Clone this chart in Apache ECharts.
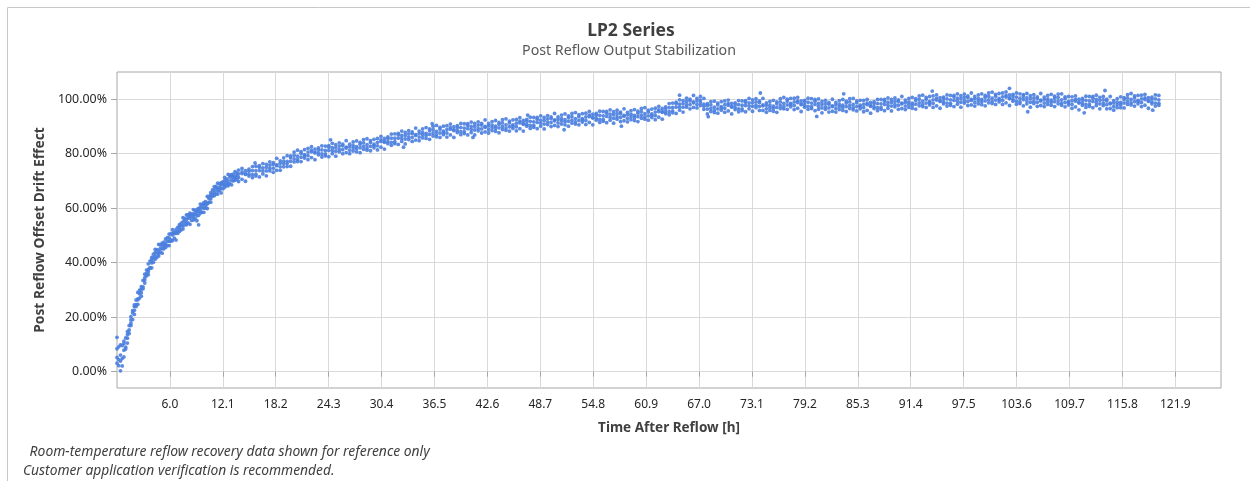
<!DOCTYPE html>
<html>
<head>
<meta charset="utf-8">
<script src="https://cdn.jsdelivr.net/npm/echarts@6/dist/echarts.min.js"></script>
<style>
html,body{margin:0;padding:0;background:#fff;}
#chart{width:1250px;height:481px;}
</style>
</head>
<body>
<div id="chart"></div>
<script>
// Time after reflow [h]
const hours = [
0,0.4,0.8,1.2,1.6,2,2.4,2.8,3.2,3.6,
4,4.4,4.8,5.2,5.6,6,6.4,6.8,7.2,7.6,
8,8.4,8.8,9.2,9.6,10,10.4,10.8,11.2,11.6,
12,12.4,12.8,13.2,13.6,14,14.4,14.8,15.2,15.6,
16,16.4,16.8,17.2,17.6,18,18.4,18.8,19.2,19.6,
20,20.4,20.8,21.2,21.6,22,22.4,22.8,23.2,23.6,
24,24.4,24.8,25.2,25.6,26,26.4,26.8,27.2,27.6,
28,28.4,28.8,29.2,29.6,30,30.4,30.8,31.2,31.6,
32,32.4,32.8,33.2,33.6,34,34.4,34.8,35.2,35.6,
36,36.4,36.8,37.2,37.6,38,38.4,38.8,39.2,39.6,
40,40.4,40.8,41.2,41.6,42,42.4,42.8,43.2,43.6,
44,44.4,44.8,45.2,45.6,46,46.4,46.8,47.2,47.6,
48,48.4,48.8,49.2,49.6,50,50.4,50.8,51.2,51.6,
52,52.4,52.8,53.2,53.6,54,54.4,54.8,55.2,55.6,
56,56.4,56.8,57.2,57.6,58,58.4,58.8,59.2,59.6,
60,60.4,60.8,61.2,61.6,62,62.4,62.8,63.2,63.6,
64,64.4,64.8,65.2,65.6,66,66.4,66.8,67.2,67.6,
68,68.4,68.8,69.2,69.6,70,70.4,70.8,71.2,71.6,
72,72.4,72.8,73.2,73.6,74,74.4,74.8,75.2,75.6,
76,76.4,76.8,77.2,77.6,78,78.4,78.8,79.2,79.6,
80,80.4,80.8,81.2,81.6,82,82.4,82.8,83.2,83.6,
84,84.4,84.8,85.2,85.6,86,86.4,86.8,87.2,87.6,
88,88.4,88.8,89.2,89.6,90,90.4,90.8,91.2,91.6,
92,92.4,92.8,93.2,93.6,94,94.4,94.8,95.2,95.6,
96,96.4,96.8,97.2,97.6,98,98.4,98.8,99.2,99.6,
100,100.4,100.8,101.2,101.6,102,102.4,102.8,103.2,103.6,
104,104.4,104.8,105.2,105.6,106,106.4,106.8,107.2,107.6,
108,108.4,108.8,109.2,109.6,110,110.4,110.8,111.2,111.6,
112,112.4,112.8,113.2,113.6,114,114.4,114.8,115.2,115.6,
116,116.4,116.8,117.2,117.6,118,118.4,118.8,119.2,119.6,
120
];
// Drift effect readings [%], four readings per time stamp
const readA = [
3.1,0.3,5.4,13.6,20.2,21.0,26.7,29.0,35.8,36.7,
41.2,41.3,46.7,45.1,46.9,46.3,50.8,50.8,54.0,52.4,
53.9,57.6,56.8,58.5,61.5,58.5,61.9,63.5,67.9,66.3,
68.7,67.7,72.4,70.2,71.6,69.8,73.3,72.4,74.3,71.2,
71.8,75.0,73.7,75.0,77.0,73.2,75.9,75.2,78.5,76.4,
78.5,77.0,81.3,78.7,79.7,77.8,81.3,80.3,82.1,78.8,
79.2,82.4,81.1,82.2,84.0,80.0,82.4,81.3,84.3,81.8,
83.5,81.6,85.5,82.7,83.5,81.4,85.1,84.2,86.2,83.1,
83.7,86.9,85.6,86.7,88.5,84.5,87.0,86.1,89.1,86.7,
88.4,86.5,90.4,87.6,88.3,86.1,89.6,88.5,90.3,87.0,
87.4,90.4,88.9,90.0,91.7,87.6,90.0,88.9,91.8,89.3,
90.8,88.9,92.8,89.9,90.6,88.4,91.9,90.8,92.6,89.3,
89.7,92.7,91.2,92.2,94.0,90.0,92.4,91.3,94.2,91.7,
93.2,91.2,95.1,92.2,92.9,90.7,94.2,93.1,94.8,91.5,
91.9,94.9,93.4,94.3,96.0,91.8,94.1,93.0,95.8,93.3,
94.9,93.0,96.9,93.9,94.6,92.5,96.1,95.2,97.2,94.3,
95.0,98.3,97.1,98.4,100.4,96.5,99.0,98.1,101.0,97.4,
97.7,95.5,99.3,96.5,97.3,95.2,98.4,97.1,98.7,95.4,
95.8,98.9,97.6,98.7,100.2,95.9,97.9,96.5,99.2,96.7,
98.3,96.6,100.7,97.9,98.5,96.2,99.4,98.0,99.6,96.3,
96.6,99.3,97.4,98.1,99.6,95.3,97.6,96.6,99.5,97.0,
98.6,96.6,100.3,97.3,97.8,95.4,98.6,97.4,99.1,95.8,
96.3,99.3,97.8,98.8,100.5,96.3,98.6,97.5,100.3,97.8,
99.5,97.6,101.5,98.6,99.2,97.0,100.3,99.2,100.8,97.5,
97.8,100.8,99.3,100.2,101.9,97.7,99.9,98.8,101.6,99.1,
100.7,98.7,102.6,99.7,100.3,98.1,101.4,100.2,101.8,98.2,
98.4,101.1,99.4,100.2,101.7,97.4,99.7,98.6,101.4,98.9,
100.4,98.3,102.0,98.8,99.2,96.7,99.9,98.6,100.3,97.0,
97.4,100.4,98.8,99.6,101.0,96.5,98.6,97.3,100.2,98.0,
99.9,98.1,102.1,99.1,99.6,97.3,100.5,99.2,100.8,97.5,
97.8
];
const readB = [
8.4,6.1,11.2,12.3,16.9,23.9,24.7,30.3,33.6,39.6,
38.1,43.7,43.3,47.2,45.6,49.1,48.1,52.2,52.2,56.5,
57.5,54.1,59.5,57.2,58.2,61.4,59.9,64.8,65.7,69.2,
65.6,70.1,69.0,72.3,70.3,72.6,70.6,73.8,72.5,75.3,
75.4,71.5,76.4,73.7,73.7,76.1,73.9,76.5,76.3,79.3,
75.4,79.4,77.9,80.8,78.4,80.6,78.6,81.7,80.3,82.9,
82.8,78.9,83.8,80.9,80.7,82.9,80.4,82.6,82.1,84.7,
80.4,84.0,82.1,84.8,82.2,84.2,82.4,85.6,84.4,87.2,
87.3,83.4,88.3,85.4,85.2,87.4,85.0,87.4,86.9,89.6,
85.3,88.9,87.0,89.7,87.0,88.9,86.9,89.9,88.5,91.1,
91.0,86.9,91.6,88.7,88.4,90.5,88.0,90.2,89.6,92.2,
87.7,91.3,89.4,92.0,89.3,91.2,89.2,92.2,90.8,93.4,
93.3,89.2,93.9,90.9,90.7,92.9,90.4,92.6,92.0,94.6,
90.1,93.6,91.7,94.3,91.6,93.5,91.5,94.5,93.0,95.6,
95.5,91.4,96.1,93.0,92.7,94.7,92.1,94.3,93.6,96.2,
91.8,95.4,93.5,96.0,93.3,95.3,93.4,96.6,95.4,98.4,
98.6,94.8,99.8,97.1,97.1,99.4,97.0,99.4,98.8,100.3,
94.6,97.9,95.9,98.6,96.0,98.0,95.7,98.5,96.9,99.5,
99.4,95.4,100.3,97.4,96.9,98.8,95.9,97.8,97.0,99.6,
95.2,99.0,97.3,100.0,97.2,99.0,96.7,99.4,97.8,100.4,
100.2,95.8,100.1,96.8,96.3,98.2,95.6,97.9,97.3,99.9,
95.5,99.0,96.9,99.4,96.5,98.2,95.9,98.8,97.3,99.9,
99.9,95.8,100.5,97.5,97.2,99.2,96.6,98.8,98.1,100.7,
96.4,100.0,98.1,100.7,97.9,99.8,97.6,100.6,99.0,101.6,
101.4,97.3,102.0,98.9,98.6,100.6,97.9,100.1,99.4,102.0,
97.6,101.1,99.2,101.8,99.0,100.9,98.7,101.6,100.0,102.3,
102.0,97.6,102.1,98.9,98.4,100.3,97.7,99.9,99.2,101.8,
97.3,100.7,98.6,100.9,97.9,99.5,97.2,100.0,98.5,101.1,
101.0,96.9,101.5,98.3,97.7,99.4,96.6,98.6,98.0,100.9,
96.8,100.5,98.7,101.2,98.3,100.1,97.8,100.6,99.0,101.6,
101.4
];
const readC = [
12.6,9.8,7.9,14.7,17.8,24.5,29.1,31.2,32.5,37.5,
41.9,44.9,44.5,43.5,48.7,47.8,50.2,48.3,51.5,55.0,
55.9,56.4,55.7,59.6,59.1,62.0,64.3,65.7,64.6,67.1,
69.4,71.3,70.2,68.6,73.4,71.3,72.7,69.9,71.8,73.8,
73.8,73.8,72.6,76.1,74.6,76.7,78.3,77.4,75.2,77.2,
79.2,80.6,79.1,77.1,81.5,79.3,80.7,77.8,79.6,81.4,
81.2,81.2,80.0,83.3,81.6,83.5,84.8,83.5,81.0,82.6,
84.2,85.2,83.3,81.1,85.3,82.9,84.5,81.7,83.7,85.7,
85.7,85.7,84.5,87.8,86.1,88.0,89.4,88.3,85.8,87.5,
89.1,90.1,88.2,86.0,90.1,87.6,89.0,86.0,87.8,89.6,
89.4,89.2,87.8,91.1,89.3,91.1,92.4,91.1,88.5,90.1,
91.5,92.5,90.6,88.3,92.4,89.9,91.3,88.3,90.1,91.9,
91.7,91.5,90.1,93.3,91.6,93.5,94.8,93.5,90.9,92.5,
93.9,94.8,92.9,90.6,94.7,92.2,93.6,90.6,92.3,94.1,
93.9,93.7,92.3,95.4,93.6,95.3,96.5,95.2,92.5,94.1,
95.6,96.6,94.7,92.3,96.4,94.0,95.5,92.7,94.7,96.9,
97.0,97.1,96.0,99.5,98.0,100.0,101.4,100.3,97.7,98.2,
98.4,99.1,97.1,94.9,99.1,96.7,97.8,94.6,96.2,98.0,
97.8,97.7,96.5,99.8,97.8,99.4,100.3,98.7,95.9,97.5,
99.0,100.2,98.5,96.3,100.3,97.7,98.8,95.5,97.1,98.9,
98.6,98.1,96.3,99.2,97.2,98.8,100.0,98.8,96.2,97.8,
99.3,100.2,98.1,95.7,99.6,96.9,98.0,94.9,96.6,98.4,
98.3,98.1,96.7,99.9,98.1,99.8,101.0,99.7,97.0,98.6,
100.2,101.2,99.3,97.0,101.0,98.5,99.7,96.7,98.3,100.1,
99.8,99.6,98.2,101.3,99.5,101.2,102.3,101.0,98.3,99.9,
101.4,102.3,100.4,98.1,102.1,99.6,100.8,97.7,99.3,100.8,
100.4,99.9,98.3,101.3,99.3,100.9,102.1,100.8,98.1,99.7,
101.1,101.9,99.8,97.2,101.0,98.2,99.3,96.1,97.8,99.6,
99.4,99.2,97.7,100.7,98.6,100.0,101.0,99.5,96.9,98.8,
100.6,101.7,99.9,97.5,101.4,98.8,99.9,96.7,98.3,100.1,
99.8
];
const readD = [
5.2,3.9,10.3,10.5,19.0,22.5,26.4,27.7,34.5,35.6,
39.9,42.4,42.5,46.5,46.4,50.5,52.1,51.1,53.3,53.5,
54.6,58.2,57.9,55.4,60.3,60.0,61.6,62.2,66.6,65.2,
67.4,68.8,68.2,71.6,71.1,74.0,74.6,72.7,73.6,72.3,
72.5,75.6,74.8,71.9,75.8,74.7,75.6,73.9,77.2,75.3,
77.2,78.1,77.1,80.1,79.2,82.0,82.6,80.6,81.4,79.9,
79.9,83.0,82.2,79.1,82.8,81.5,82.1,80.0,83.0,80.7,
82.2,82.7,81.3,84.1,83.0,85.6,86.4,84.5,85.5,84.2,
84.4,87.5,86.7,83.6,87.3,86.0,86.7,84.8,87.8,85.6,
87.1,87.6,86.2,89.0,87.8,90.3,90.9,88.8,89.6,88.1,
88.1,91.0,90.0,86.9,90.5,89.1,89.7,87.6,90.5,88.2,
89.5,90.0,88.6,91.3,90.1,92.6,93.2,91.1,91.9,90.4,
90.4,93.3,92.3,89.1,92.8,91.5,92.1,90.0,92.9,90.6,
91.9,92.3,90.9,93.6,92.4,94.9,95.5,93.4,94.1,92.6,
92.6,95.5,94.5,91.2,94.8,93.3,93.8,91.7,94.5,92.2,
93.6,94.1,92.7,95.3,94.1,96.7,97.4,95.5,96.5,95.4,
95.7,98.9,98.2,95.3,99.2,98.0,98.7,96.8,99.7,96.3,
96.4,96.6,95.1,97.9,96.8,99.4,99.7,97.4,98.0,96.5,
96.5,99.5,98.7,95.6,99.0,97.4,97.6,95.2,97.9,95.6,
97.0,97.7,96.5,99.3,98.0,100.4,100.7,98.3,98.9,97.4,
97.3,99.9,98.5,95.0,98.4,96.8,97.3,95.3,98.2,95.9,
97.3,97.7,96.1,98.7,97.3,99.6,99.9,97.7,98.4,96.9,
97.0,99.9,98.9,95.7,99.3,97.8,98.3,96.2,99.0,96.7,
98.2,98.7,97.3,100.0,98.7,101.2,101.6,99.5,100.1,98.6,
98.5,101.4,100.4,97.1,100.7,99.2,99.6,97.5,100.3,98.0,
99.4,99.8,98.4,101.1,99.8,102.3,102.7,100.5,101.1,99.3,
99.1,101.7,100.5,97.1,100.5,98.9,99.4,97.3,100.1,97.8,
99.1,99.4,97.8,100.2,98.7,100.9,101.2,98.9,99.6,98.1,
98.1,101.0,99.9,96.5,99.8,98.0,98.3,96.0,98.9,96.9,
98.6,99.2,97.9,100.5,99.1,101.5,101.8,99.5,100.1,98.6,
98.5
];
// extra readings in the steep early part [h] and [%]
const hoursEarly = [
0.2,0.6,1.0,1.4,1.8,2.2,2.6,3.0,3.4,3.8,
4.2,4.6,5.0,5.4,5.8,6.2,6.6,7.0,7.4,7.8,
8.2,8.6,9.0,9.4,9.8,10.2,10.6,11.0,11.4,11.8,
12.2,12.6,13.0,13.4,13.8
];
const earlyA = [
2.2,4.8,9.0,16.9,19.1,26.3,27.0,33.5,35.2,40.6,
40.2,44.8,43.9,47.5,46.3,50.6,49.0,53.0,52.1,56.2,
54.6,57.8,56.1,59.9,58.5,62.4,62.1,66.7,65.2,68.9,
67.1,70.8,69.0,72.5,70.6
];
const earlyB = [
9.1,9.6,12.4,14.0,21.6,23.9,29.9,31.1,37.3,38.2,
41.7,42.0,46.6,45.1,47.9,48.4,51.2,50.8,54.5,54.0,
56.4,55.5,59.0,57.4,60.2,60.0,64.3,64.4,67.5,66.5,
69.7,68.3,71.4,70.0,72.9
];
const earlyC = [
4.4,2.1,8.3,15.3,22.4,24.6,28.6,30.4,36.0,37.9,
43.1,43.6,45.3,46.0,49.2,47.9,50.7,51.5,53.6,55.3,
57.5,56.9,57.7,58.8,61.3,61.0,63.5,65.2,68.0,67.6,
68.6,69.5,72.1,71.2,71.9
];
// isolated stray readings [h, %]
const strayPoints = [
[9.4,53.9],[15.9,76.6],[24.6,85.1],[33.0,82.4],[36.3,91.0],[41.0,86.0],
[47.3,94.2],[51.5,88.8],[58.1,90.1],[64.8,101.5],[68.1,93.6],[74.1,102.3],
[80.6,93.7],[83.7,102.0],[93.9,103.0],[102.8,104.0],[104.9,95.4],[111.4,95.0],
[113.8,103.2],[119.3,96.0]
];

const xTickValues = [6.095,12.19,18.285,24.38,30.475,36.57,42.665,48.76,54.855,60.95,67.045,73.14,79.235,85.33,91.425,97.52,103.615,109.71,115.805,121.9];
const xTickLabels = ['6.0','12.1','18.2','24.3','30.4','36.5','42.6','48.7','54.8','60.9','67.0','73.1','79.2','85.3','91.4','97.5','103.6','109.7','115.8','121.9'];
const yTickValues = [0,20,40,60,80,100];
const yTickLabels = ['0.00%','20.00%','40.00%','60.00%','80.00%','100.00%'];

const points = [];
hours.forEach(function (h, i) {
  [readA, readB, readC, readD].forEach(function (arr) { points.push([h, arr[i]]); });
});
hoursEarly.forEach(function (h, i) {
  [earlyA, earlyB, earlyC].forEach(function (arr) { points.push([h, arr[i]]); });
});
strayPoints.forEach(function (p) { points.push(p); });

function labelFor(values, labels, v) {
  for (let i = 0; i < values.length; i++) {
    if (Math.abs(values[i] - v) < 1e-6) return labels[i];
  }
  return '';
}

const FONT = '"Noto Sans", "Open Sans", sans-serif';
const chart = echarts.init(document.getElementById('chart'), null, { renderer: 'canvas' });
chart.setOption({
  animation: false,
  backgroundColor: '#ffffff',
  textStyle: { fontFamily: FONT },
  grid: {
    left: 117, right: 29, top: 72, bottom: 93,
    show: true, borderColor: '#a6a6a6', borderWidth: 1,
    outerBoundsMode: 'none', containLabel: false
  },
  graphic: [
    { type: 'rect', silent: true, z: -10, shape: { x: 7.5, y: 7.5, width: 1400, height: 700 },
      style: { fill: 'none', stroke: '#c8c8c8', lineWidth: 1 } },
    { type: 'text', x: 631, y: 31, silent: true,
      style: { text: 'LP2 Series', font: 'bold 17.5px ' + FONT, fill: '#404040', textAlign: 'center', textVerticalAlign: 'middle' } },
    { type: 'text', x: 629, y: 51, silent: true,
      style: { text: 'Post Reflow Output Stabilization', font: '14.2px ' + FONT, fill: '#595959', textAlign: 'center', textVerticalAlign: 'middle' } },
    { type: 'text', x: 26, y: 452, silent: true,
      style: { text: ' Room-temperature reflow recovery data shown for reference only', font: 'italic 13.9px ' + FONT, fill: '#404040', textAlign: 'left', textVerticalAlign: 'middle' } },
    { type: 'text', x: 23, y: 471, silent: true,
      style: { text: 'Customer application verification is recommended.', font: 'italic 13.8px ' + FONT, fill: '#404040', textAlign: 'left', textVerticalAlign: 'middle' } }
  ],
  xAxis: {
    type: 'value', min: 0, max: 127.16,
    name: 'Time After Reflow [h]', nameLocation: 'middle', nameGap: 33,
    nameTextStyle: { fontSize: 13.5, fontWeight: 'bold', color: '#404040', fontFamily: FONT },
    axisLine: { show: false },
    axisTick: { show: true, customValues: xTickValues, length: 5, lineStyle: { color: '#a6a6a6' } },
    axisLabel: { customValues: xTickValues, margin: 11, fontSize: 12, color: '#262626', fontFamily: FONT,
      formatter: function (v) { return labelFor(xTickValues, xTickLabels, v); } },
    splitLine: { show: true, lineStyle: { color: '#d9d9d9', width: 1 } }
  },
  yAxis: {
    type: 'value', min: -6, max: 110,
    name: 'Post Reflow Offset Drift Effect', nameLocation: 'middle', nameGap: 66, nameRotate: 90,
    nameTextStyle: { fontSize: 13.8, fontWeight: 'bold', color: '#404040', fontFamily: FONT },
    axisLine: { show: false },
    axisTick: { show: true, customValues: yTickValues, length: 6, lineStyle: { color: '#a6a6a6' } },
    axisLabel: { customValues: yTickValues, margin: 10, fontSize: 12.4, color: '#262626', fontFamily: FONT,
      formatter: function (v) { return labelFor(yTickValues, yTickLabels, v); } },
    splitLine: { show: true, lineStyle: { color: '#d9d9d9', width: 1 } }
  },
  series: [{
    type: 'scatter',
    data: points,
    symbol: 'circle',
    symbolSize: 3.8,
    silent: true,
    itemStyle: { color: '#4a7ede', opacity: 0.9 }
  }]
});
</script>
</body>
</html>
